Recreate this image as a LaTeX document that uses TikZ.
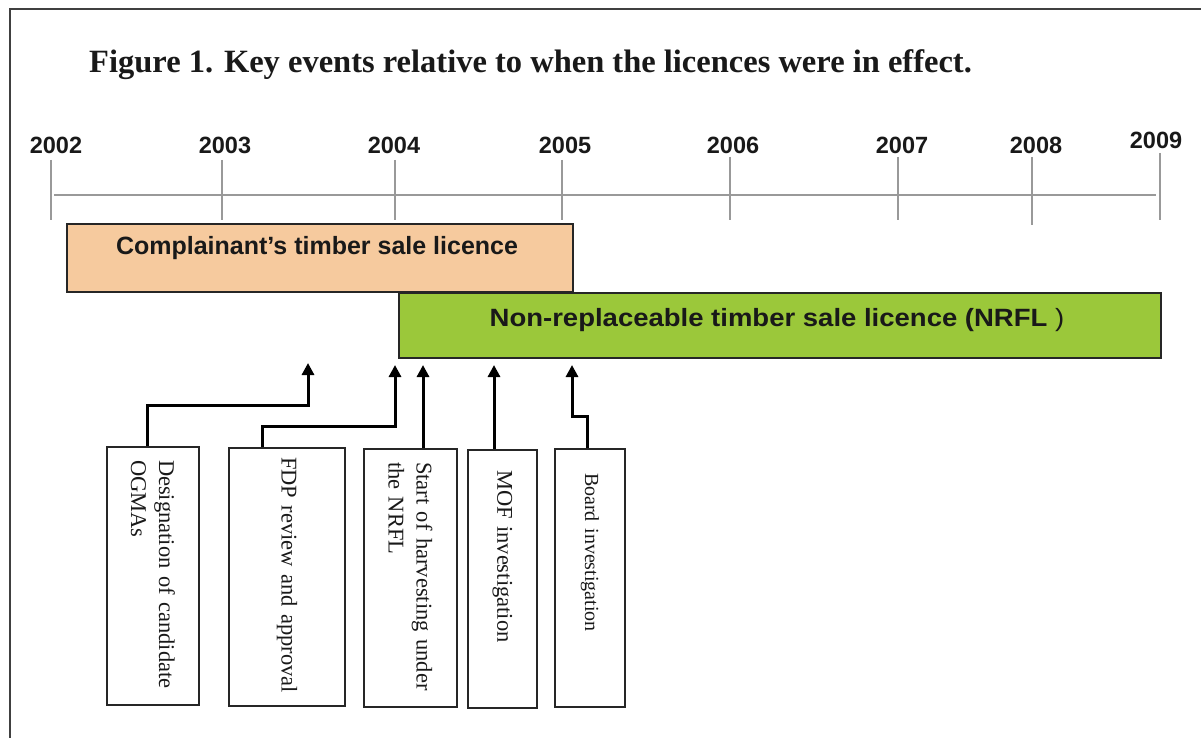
\documentclass[tikz,border=0pt]{standalone}
\usepackage{fontspec}
\setmainfont{Liberation Serif}
\setsansfont{Liberation Sans}
\usetikzlibrary{arrows.meta}
\definecolor{peach}{RGB}{246,202,158}
\definecolor{lime}{RGB}{155,200,58}
\definecolor{ink}{RGB}{25,25,25}
\begin{document}
\begin{tikzpicture}[x=1pt,y=-1pt,
  yearlbl/.style={font=\sffamily\bfseries\fontsize{23.5}{28}\selectfont, text=ink},
  tickline/.style={draw=black!40, line width=1.5pt},
  barbox/.style={draw=black!85, line width=2pt, inner sep=0pt},
  bartext/.style={font=\sffamily\bfseries\fontsize{25}{30}\selectfont, text=ink},
  evbox/.style={draw=black!85, line width=2pt, rotate=-90, align=left, inner ysep=0pt,
    font=\fontsize{22.5}{28}\selectfont, text=ink, minimum width=258pt},
  conn/.style={draw=black, line width=3pt, -{Triangle[length=12pt,width=12pt]}},
]
\useasboundingbox (0,0) rectangle (1201,738);
\fill[white] (0,0) rectangle (1201,738);
% frame
\draw[line width=2.5pt, draw=black!75] (10,738) -- (10,9) -- (1201,9);
% title
\node[anchor=base west, inner sep=0pt, font=\bfseries\fontsize{32.5}{38}\selectfont, text=ink] (title) at (89,73)
  {Figure 1. Key events relative to when the licences were in effect.};
% axis
\draw[tickline] (54,195) -- (1156,195);
\foreach \x/\a/\b in {51/160/220, 222/160/220, 395/160/220, 562/160/220, 730/157/220, 898/157/220, 1032/157/225, 1160/153/220}
  \draw[tickline] (\x,\a) -- (\x,\b);
\node[yearlbl] (y2002) at (56,145) {2002};
\node[yearlbl] (y2003) at (225,145) {2003};
\node[yearlbl] (y2004) at (394,145) {2004};
\node[yearlbl] (y2005) at (565,145) {2005};
\node[yearlbl] (y2006) at (733,145) {2006};
\node[yearlbl] (y2007) at (902,145) {2007};
\node[yearlbl] (y2008) at (1036,145) {2008};
\node[yearlbl] (y2009) at (1156,140) {2009};
% bars
\node[barbox, fill=peach, minimum width=506pt, minimum height=68pt, anchor=north west] (cbar) at (66,223) {};
\node[bartext] (clab) at (317,248) {Complainant’s timber sale licence};
\node[barbox, fill=lime, minimum width=762pt, minimum height=65pt, anchor=north west] (nbar) at (398,292) {};
\node[bartext] (nlab) at (777,320) {\scalebox{1.1}[1]{Non-replaceable timber sale licence (NRFL\hspace{7pt}{\mdseries)}}};
% event boxes
\node[evbox, minimum height=92pt, inner xsep=13pt, text width=232pt] (e1) at (153,576)
  {Designation of candidate\\OGMAs};
\node[evbox, minimum height=116pt, inner xsep=9pt, text width=240pt] (e2) at (287,577)
  {FDP review and approval};
\node[evbox, minimum height=93pt, inner xsep=13pt, text width=232pt] (e3) at (410.5,578)
  {Start of harvesting under\\the NRFL};
\node[evbox, minimum height=69pt, inner xsep=20pt, text width=218pt] (e4) at (502.5,579)
  {MOF investigation};
\node[evbox, minimum height=70pt, inner xsep=24pt, text width=210pt, font=\fontsize{20}{24}\selectfont] (e5) at (590,578)
  {Board investigation};
% arrow targets
\coordinate (t1) at (308,363);
\coordinate (t2) at (395,365);
\coordinate (t3) at (423,365);
\coordinate (t4) at (494,365);
\coordinate (t5) at (572,365);
% connectors
\draw[conn] ([xshift=-6pt]e1.west) |- ([yshift=-42pt]t1) -- (t1);
\draw[conn] ([xshift=-25pt]e2.west) |- ([yshift=-61pt]t2) -- (t2);
\draw[conn] ([xshift=12.5pt]e3.west) -- (t3);
\draw[conn] ([xshift=-8.5pt]e4.west) -- (t4);
\draw[conn] ([xshift=-3pt]e5.west) |- ([yshift=-51pt]t5) -- (t5);
\end{tikzpicture}
\end{document}
